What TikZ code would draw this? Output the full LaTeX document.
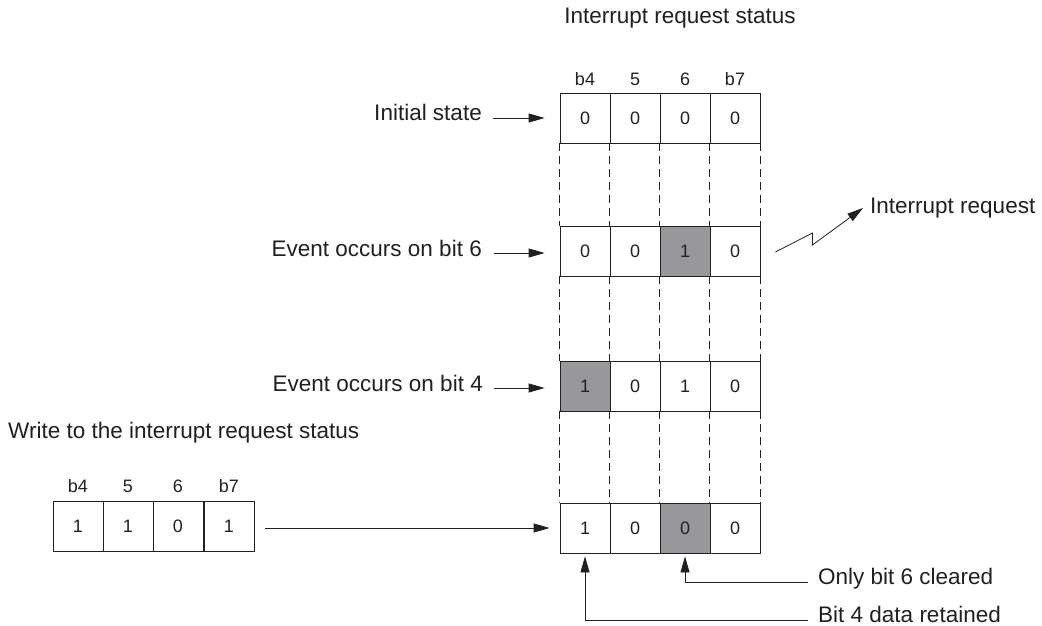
\documentclass[tikz,border=0pt]{standalone}
\usepackage{fontspec}
\setmainfont{Liberation Sans}
\usetikzlibrary{arrows.meta}
\definecolor{cellgray}{RGB}{152,152,156}
\definecolor{ink}{RGB}{35,31,32}
\begin{document}
\begin{tikzpicture}[x=1pt,y=-1pt,
  every node/.style={text=ink},
  cell/.style={draw=ink, minimum width=50pt, minimum height=50pt, inner sep=0pt,
    font=\fontsize{18}{20}\selectfont, line width=0.8pt},
  graycell/.style={cell, fill=cellgray},
  bitlbl/.style={anchor=base, inner sep=0pt, font=\fontsize{18}{20}\selectfont},
  txt/.style={inner sep=0pt, font=\fontsize{22.5}{26}\selectfont},
  dashline/.style={draw=ink, line width=0.8pt, dash pattern=on 8pt off 5pt},
  arr/.style={draw=ink, line width=0.8pt, -{Triangle[length=16pt,width=9pt]}}]
\useasboundingbox (0,0) rectangle (1042,626);
% title
\node[txt, anchor=base] (title) at (680,24) {Interrupt request status};
% top bit labels
\node[bitlbl] (t1) at (585,85) {b4};
\node[bitlbl] (t2) at (635,85) {5};
\node[bitlbl] (t3) at (685,85) {6};
\node[bitlbl] (t4) at (735,85) {b7};
% row 1
\node[cell] (a1) at (585,118) {0};
\node[cell] (a2) at (635,118) {0};
\node[cell] (a3) at (685,118) {0};
\node[cell] (a4) at (735,118) {0};
% row 2
\node[cell] (b1) at (585,251) {0};
\node[cell] (b2) at (635,251) {0};
\node[graycell] (b3) at (685,251) {1};
\node[cell] (b4) at (735,251) {0};
% row 3
\node[graycell] (c1) at (585,386) {1};
\node[cell] (c2) at (635,386) {0};
\node[cell] (c3) at (685,386) {1};
\node[cell] (c4) at (735,386) {0};
% row 4
\node[cell] (d1) at (585,528) {1};
\node[cell] (d2) at (635,528) {0};
\node[graycell] (d3) at (685,528) {0};
\node[cell] (d4) at (735,528) {0};
% dashed guides
\foreach \u/\l in {a/b,b/c,c/d}{
  \foreach \i in {1,2,3,4}{
    \draw[dashline] (\u\i.south west) -- (\l\i.north west);
  }
  \draw[dashline] (\u4.south east) -- (\l4.north east);
}
% left register
\node[bitlbl] (s1) at (78,492) {b4};
\node[bitlbl] (s2) at (128,492) {5};
\node[bitlbl] (s3) at (178,492) {6};
\node[bitlbl] (s4) at (229,492) {b7};
\node[cell] (w1) at (78,526) {1};
\node[cell] (w2) at (128,526) {1};
\node[cell] (w3) at (178,526) {0};
\node[cell] (w4) at (229,526) {1};
% labels left
\node[txt, anchor=base east] (l1) at (482,121) {Initial state};
\node[txt, anchor=base east] (l2) at (482,256) {Event occurs on bit 6};
\node[txt, anchor=base east] (l3) at (483,391) {Event occurs on bit 4};
\node[txt, anchor=base west] (wr) at (8,438) {Write to the interrupt request status};
\draw[arr] ([xshift=11pt,yshift=3pt]l1.base east) -- ([xshift=-15pt,yshift=3pt]l1.base east -| a1.west);
\draw[arr] ([xshift=12pt,yshift=3pt]l2.base east) -- ([xshift=-15pt,yshift=3pt]l2.base east -| b1.west);
\draw[arr] ([xshift=11pt,yshift=3pt]l3.base east) -- ([xshift=-15pt,yshift=3pt]l3.base east -| c1.west);
\draw[arr] ([xshift=11pt]w4.east |- d1.west) -- ([xshift=-10pt]d1.west);
% interrupt request
\node[txt, anchor=base west] (irq) at (870,213) {Interrupt request};
\draw[arr] ([xshift=15pt,yshift=-1pt]b4.east) -- ++(37,-19) -- ++(0,12)
  -- ([xshift=-7pt,yshift=5pt]irq.base west);
% bottom annotations
\node[txt, anchor=base west] (ob) at (818,584) {Only bit 6 cleared};
\node[txt, anchor=base west] (br) at (818,622) {Bit 4 data retained};
\draw[arr] ([xshift=-10pt,yshift=2pt]ob.base west) -| ([yshift=-3pt]d3.south);
\draw[arr] ([xshift=-10pt,yshift=2pt]br.base west) -| ([yshift=-3pt]d1.south);
\end{tikzpicture}
\end{document}
